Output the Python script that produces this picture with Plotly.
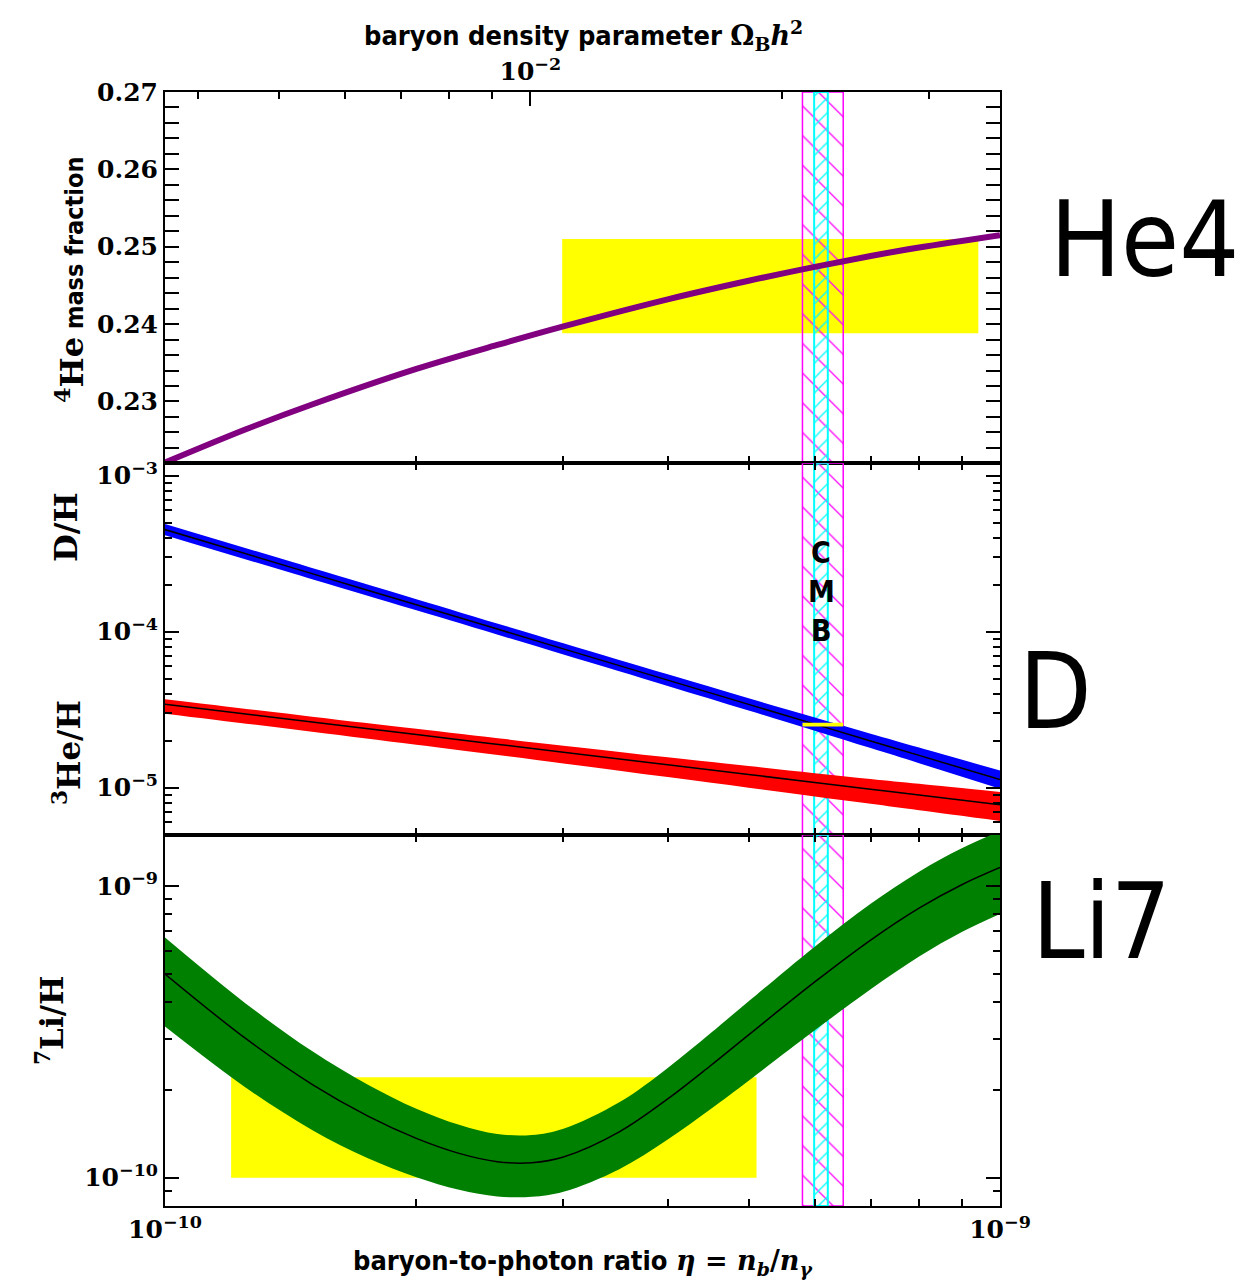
import math
import plotly.graph_objects as go

# ---------------------------------------------------------------------------
# Big-bang nucleosynthesis abundances versus baryon-to-photon ratio eta.
# eta values are given in units of 1e-10.
# ---------------------------------------------------------------------------
ETA_UNIT = 1e-10
OMEGA_TO_ETA = 2.739e-8          # eta = 2.739e-8 * Omega_B h^2

# 4He mass fraction
eta10_he4 = [1, 1.25, 1.5, 2, 2.5, 3, 4, 5, 6, 7, 8, 10]
yp_he4 = [0.2221, 0.2264, 0.2296, 0.2342, 0.2373, 0.2397, 0.2432, 0.2456,
          0.2474, 0.2488, 0.2499, 0.2515]

# D/H and 3He/H (units of 1e-5)
eta10_light = [1, 1.5, 2, 3, 4, 5, 6, 7, 8, 10]
dh_mid = [45.13, 23.57, 14.88, 7.757, 4.894, 3.420, 2.556, 1.995, 1.611, 1.127]
dh_hi = [49.03, 25.61, 16.17, 8.427, 5.329, 3.741, 2.815, 2.218, 1.808, 1.288]
dh_lo = [41.54, 21.69, 13.70, 7.140, 4.494, 3.126, 2.320, 1.795, 1.436, 0.986]
he3_mid = [3.424, 2.637, 2.190, 1.688, 1.402, 1.215, 1.080, 0.978, 0.897, 0.777]
he3_hi = [3.686, 2.852, 2.385, 1.859, 1.566, 1.376, 1.240, 1.138, 1.059, 0.939]
he3_lo = [2.982, 2.286, 1.886, 1.430, 1.169, 0.999, 0.878, 0.788, 0.716, 0.612]
LIGHT_UNIT = 1e-5

# 7Li/H (units of 1e-10)
eta10_li = [1, 1.25, 1.5, 1.75, 2, 2.25, 2.5, 2.75, 3, 3.5, 4, 4.5, 5, 6, 7,
            8, 9, 10]
li_mid = [4.993, 2.996, 2.090, 1.626, 1.364, 1.212, 1.135, 1.126, 1.178,
          1.437, 1.863, 2.421, 3.089, 4.691, 6.530, 8.401, 10.103, 11.571]
li_hi = [6.658, 3.950, 2.717, 2.085, 1.725, 1.519, 1.412, 1.401, 1.472,
         1.813, 2.378, 3.126, 4.026, 6.198, 8.688, 11.203, 13.472, 15.430]
li_lo = [3.299, 2.035, 1.459, 1.167, 1.004, 0.909, 0.863, 0.860, 0.895,
         1.070, 1.353, 1.718, 2.152, 3.201, 4.425, 5.732, 6.958, 8.023]
LI_UNIT = 1e-10

# Observational boxes: [eta range], [abundance range]
he4_obs_eta = [2.99e-10, 9.42e-10]
he4_obs_val = [0.2388, 0.2510]
dh_obs_eta = [5.80e-10, 6.49e-10]
dh_obs_val = [2.47e-5, 2.61e-5]
li_obs_eta = [1.2e-10, 5.11e-10]
li_obs_val = [1.0e-10, 2.21e-10]

# CMB constraints on eta
cmb_wide_eta = [5.80e-10, 6.49e-10]
cmb_narrow_eta = [5.99e-10, 6.22e-10]

# Axis ranges
ETA_RANGE = [1e-10, 1e-9]
Y1_RANGE = [0.222, 0.27]
Y2_RANGE = [5e-6, 1.2e-3]
Y3_RANGE = [8e-11, 1.5e-9]

# Tick marks / labels
eta_major = [1e-10, 1e-9]
eta_major_text = ["10<sup>−10</sup>", "10<sup>−9</sup>"]
eta_minor = [m * 1e-10 for m in range(2, 10)]
omega_major = [0.01]
omega_major_text = ["10<sup>−2</sup>"]
omega_minor = [0.004, 0.005, 0.006, 0.007, 0.008, 0.009, 0.02, 0.03]
he4_major = [0.23, 0.24, 0.25, 0.26, 0.27]
he4_major_text = ["0.23", "0.24", "0.25", "0.26", "0.27"]
he4_minor = [round(0.222 + 0.002 * i, 3) for i in range(25)]
light_major = [1e-5, 1e-4, 1e-3]
light_major_text = ["10<sup>−5</sup>", "10<sup>−4</sup>", "10<sup>−3</sup>"]
light_minor = [m * 10.0 ** e for e in (-6, -5, -4) for m in range(2, 10)]
li_major = [1e-10, 1e-9]
li_major_text = ["10<sup>−10</sup>", "10<sup>−9</sup>"]
li_minor = [m * 10.0 ** e for e in (-11, -10) for m in range(2, 10)]

SANS = "DejaVu Sans Condensed, DejaVu Sans, sans-serif"
SERIF = "DejaVu Serif, serif"

fig = go.Figure()


def rect(xr, yr):
    return ([xr[0], xr[1], xr[1], xr[0], xr[0]],
            [yr[0], yr[0], yr[1], yr[1], yr[0]])


def add_box(xr, yr, xa, ya, color):
    bx, by = rect(xr, yr)
    fig.add_trace(go.Scatter(x=bx, y=by, xaxis=xa, yaxis=ya, mode="lines",
                             fill="toself", fillcolor=color,
                             line=dict(width=0, color=color),
                             hoverinfo="skip", showlegend=False))


def add_hatch(xr, yr, xa, ya, color, shape, size, solidity, lw):
    bx, by = rect(xr, yr)
    fig.add_trace(go.Scatter(x=bx, y=by, xaxis=xa, yaxis=ya, mode="lines",
                             fill="toself", fillcolor="rgba(0,0,0,0)",
                             fillpattern=dict(shape=shape, fgcolor=color,
                                              bgcolor="rgba(0,0,0,0)",
                                              size=size, solidity=solidity,
                                              fgopacity=1),
                             line=dict(width=lw, color=color),
                             hoverinfo="skip", showlegend=False))


def add_band(eta10, lo, hi, unit, xa, ya, color):
    x = [e * ETA_UNIT for e in eta10]
    fig.add_trace(go.Scatter(x=x, y=[v * unit for v in lo], xaxis=xa, yaxis=ya,
                             mode="lines",
                             line=dict(width=0, color=color, shape="spline"),
                             hoverinfo="skip", showlegend=False))
    fig.add_trace(go.Scatter(x=x, y=[v * unit for v in hi], xaxis=xa, yaxis=ya,
                             mode="lines", fill="tonexty", fillcolor=color,
                             line=dict(width=0, color=color, shape="spline"),
                             hoverinfo="skip", showlegend=False))


def add_curve(eta10, vals, unit, xa, ya, color, width):
    fig.add_trace(go.Scatter(x=[e * ETA_UNIT for e in eta10],
                             y=[v * unit for v in vals], xaxis=xa, yaxis=ya,
                             mode="lines",
                             line=dict(width=width, color=color, shape="spline"),
                             hoverinfo="skip", showlegend=False))


def add_cmb(xa, ya, yr):
    add_hatch(cmb_wide_eta, yr, xa, ya, "#ff00ff", "\\", 21, 0.06, 1.5)
    add_hatch(cmb_narrow_eta, yr, xa, ya, "#00ffff", "/", 10.5, 0.12, 2)


# --- panel 1: 4He ---
add_box(he4_obs_eta, he4_obs_val, "x", "y", "#ffff00")
add_cmb("x", "y", Y1_RANGE)
add_curve(eta10_he4, yp_he4, 1.0, "x", "y", "#800080", 6)
# same curve on the Omega_B h^2 scale (keeps the top axis bound to data)
fig.add_trace(go.Scatter(x=[e * ETA_UNIT / OMEGA_TO_ETA for e in eta10_he4],
                         y=yp_he4, xaxis="x4", yaxis="y", mode="lines",
                         line=dict(width=0), opacity=0, hoverinfo="skip",
                         showlegend=False))

# --- panel 2: D and 3He ---
add_cmb("x2", "y2", Y2_RANGE)
add_band(eta10_light, dh_lo, dh_hi, LIGHT_UNIT, "x2", "y2", "#0000ff")
add_band(eta10_light, he3_lo, he3_hi, LIGHT_UNIT, "x2", "y2", "#ff0000")
add_curve(eta10_light, dh_mid, LIGHT_UNIT, "x2", "y2", "black", 1.5)
add_curve(eta10_light, he3_mid, LIGHT_UNIT, "x2", "y2", "black", 1.5)
add_box(dh_obs_eta, dh_obs_val, "x2", "y2", "#ffff00")

# --- panel 3: 7Li ---
add_box(li_obs_eta, li_obs_val, "x3", "y3", "#ffff00")
add_cmb("x3", "y3", Y3_RANGE)
add_band(eta10_li, li_lo, li_hi, LI_UNIT, "x3", "y3", "#008000")
add_curve(eta10_li, li_mid, LI_UNIT, "x3", "y3", "black", 1.5)

# --- axes ---
TICKFONT = dict(family=SERIF, size=25, color="black", weight="bold")


def axis(**kw):
    base = dict(ticks="inside", tickcolor="black", tickwidth=1.5, ticklen=14,
                showline=True, linecolor="black", linewidth=2, showgrid=False,
                zeroline=False, tickfont=TICKFONT, tickmode="array")
    base.update(kw)
    return base


def minor(vals):
    return dict(ticks="inside", ticklen=7, tickwidth=1.5, tickcolor="black",
                showgrid=False, tickmode="array", tickvals=vals)


log_eta = [math.log10(v) for v in ETA_RANGE]
D1 = [2 / 3, 1]
D2 = [1 / 3, 2 / 3]
D3 = [0, 1 / 3]

fig.update_layout(
    xaxis=axis(type="log", range=log_eta, anchor="y", tickvals=eta_major,
               showticklabels=False, mirror=True, minor=minor(eta_minor)),
    xaxis2=axis(type="log", range=log_eta, anchor="y2", tickvals=eta_major,
                showticklabels=False, mirror="allticks", minor=minor(eta_minor)),
    xaxis3=axis(type="log", range=log_eta, anchor="y3", tickvals=eta_major,
                ticktext=eta_major_text, mirror="allticks",
                minor=minor(eta_minor)),
    xaxis4=axis(type="log", overlaying="x", anchor="y", side="top",
                range=[math.log10(v / OMEGA_TO_ETA) for v in ETA_RANGE],
                tickvals=omega_major, ticktext=omega_major_text,
                minor=minor(omega_minor)),
    yaxis=axis(domain=D1, range=Y1_RANGE, anchor="x", tickvals=he4_major,
               ticktext=he4_major_text, mirror="allticks",
               minor=minor(he4_minor)),
    yaxis2=axis(domain=D2, type="log",
                range=[math.log10(v) for v in Y2_RANGE], anchor="x2",
                tickvals=light_major, ticktext=light_major_text,
                mirror="allticks", minor=minor(light_minor)),
    yaxis3=axis(domain=D3, type="log",
                range=[math.log10(v) for v in Y3_RANGE], anchor="x3",
                tickvals=li_major, ticktext=li_major_text,
                mirror="allticks", minor=minor(li_minor)),
)

# --- page geometry and text ---
W, H = 1255, 1280
ML, MR, MT, MB = 165, 255, 92, 74
PW, PH = W - ML - MR, H - MT - MB


def px(x):
    return (x - ML) / PW


def py(y):
    return (H - MB - y) / PH


def note(x, y, text, size, family, angle=0, xanchor="center"):
    return dict(x=px(x), y=py(y), xref="paper", yref="paper", text=text,
                showarrow=False, textangle=angle, xanchor=xanchor,
                yanchor="middle", font=dict(family=family, size=size,
                                            color="black"))


serif_span = "<span style='font-family:DejaVu Serif'>{}</span>"
sans_span = ("<span style='font-family:DejaVu Sans Condensed, DejaVu Sans;"
             "font-size:25px'>{}</span>")
annotations = [
    note(583, 36, "<b>baryon density parameter "
         + serif_span.format("Ω<sub>B</sub><i>h</i><sup>2</sup>") + "</b>",
         27, SANS),
    note(583, 1262, "<b>baryon-to-photon ratio "
         + serif_span.format("<i>η</i> = <i>n</i><sub><i>b</i></sub>/"
                             "<i>n</i><sub><i>γ</i></sub>") + "</b>",
         27, SANS),
    note(70, 280, "<b><sup>4</sup>He" + sans_span.format(" mass fraction")
         + "</b>", 32, SERIF, angle=-90),
    note(66, 527, "<b>D/H</b>", 32, SERIF, angle=-90),
    note(67, 753, "<b><sup>3</sup>He/H</b>", 31, SERIF, angle=-90),
    note(50, 1021, "<b><sup>7</sup>Li/H</b>", 31, SERIF, angle=-90),
    note(1048, 240, "He4", 105, SANS, xanchor="left"),
    note(1017, 692, "D", 105, SANS, xanchor="left"),
    note(1030, 922, "Li7", 105, SANS, xanchor="left"),
    note(821, 552, "<b>C</b>", 30, SANS),
    note(821, 591, "<b>M</b>", 30, SANS),
    note(821, 630, "<b>B</b>", 30, SANS),
]

fig.update_layout(
    width=W, height=H,
    margin=dict(l=ML, r=MR, t=MT, b=MB),
    paper_bgcolor="white", plot_bgcolor="white",
    showlegend=False,
    annotations=annotations,
)

fig.write_html("out.html")
